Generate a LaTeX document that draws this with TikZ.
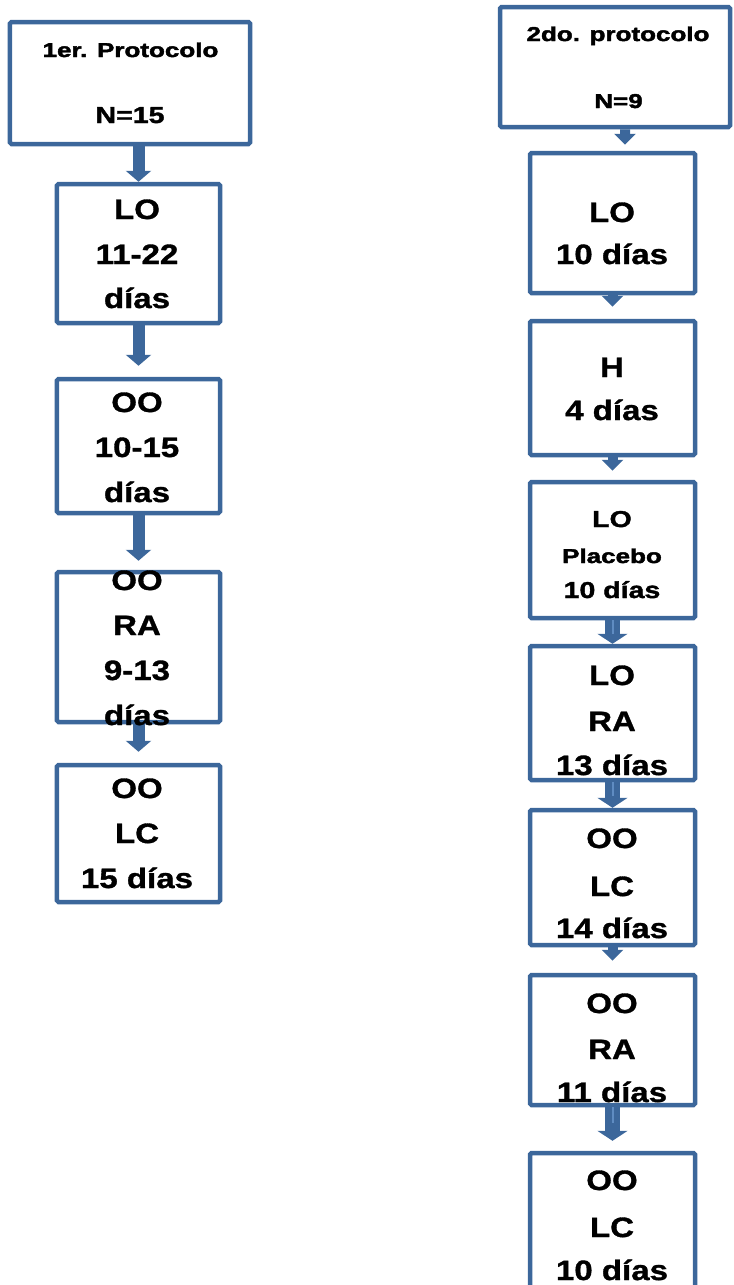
\documentclass[tikz,border=0pt]{standalone}
\usepackage{fontspec}
\usetikzlibrary{arrows.meta}
\newfontfamily\flowbig[FakeStretch=1.18, BoldFeatures={FakeBold=1.2}]{Liberation Sans}
\newfontfamily\flowmid[FakeStretch=1.24, BoldFeatures={FakeBold=1.6}]{Liberation Sans}
\newfontfamily\flowsmall[FakeStretch=1.3, BoldFeatures={FakeBold=2.2}]{Liberation Sans}
\definecolor{boxblue}{HTML}{3C679B}
\definecolor{stripeblue}{HTML}{5F8CC2}
\tikzset{
  stage/.style={draw=boxblue, line width=4.5bp, rounded corners=1.5bp, inner sep=0pt},
  leftstage/.style={stage, minimum width=163bp},
  rightstage/.style={stage, minimum width=165bp},
  bigtxt/.style={anchor=base, inner sep=0pt, font=\flowbig\bfseries\fontsize{28bp}{30bp}\selectfont},
  midtxt/.style={anchor=base, inner sep=0pt, font=\flowmid\bfseries\fontsize{23bp}{25bp}\selectfont},
  smalltxt/.style={anchor=base, inner sep=0pt, font=\flowsmall\bfseries\fontsize{20bp}{22bp}\selectfont},
  leftflow/.style={draw=boxblue, line width=12bp, -{Triangle[width=25bp,length=11bp]}},
  thinflow/.style={draw=boxblue, line width=10bp, -{Triangle[width=21bp,length=11bp]}},
  wideflow/.style={draw=boxblue, line width=15bp, -{Triangle[width=30bp,length=10bp]}},
  stripe/.style={draw=stripeblue, line width=2bp},
}
\begin{document}
\begin{tikzpicture}[x=1bp, y=-1bp]
\useasboundingbox (0,0) rectangle (734,1285);
\clip (0,0) rectangle (734,1285);

% ---- first protocol ----
\node[stage, minimum width=240bp, minimum height=122bp] (H1) at (130,83) {};
\node[leftstage, minimum height=139bp] (L2) at (138.5,253.5) {};
\node[leftstage, minimum height=134bp] (L3) at (138.5,446) {};
\node[leftstage, minimum height=150bp] (L4) at (138.5,647) {};
\node[leftstage, minimum height=137bp] (L5) at (138.5,833.5) {};

\draw[leftflow] (L2.north |- H1.south) -- (L2.north);
\draw[leftflow, shorten >=11bp] (L2.south) -- (L3.north);
\draw[leftflow, shorten >=9bp] (L3.south) -- (L4.north);
\draw[leftflow, shorten >=11bp] (L4.south) -- (L5.north);

\node[smalltxt] (H1a) at (130.5,57) {1er. Protocolo};
\node[midtxt] (H1b) at (130,123) {N=15};

\node[bigtxt] (L2a) at (137,219) {LO};
\node[bigtxt] (L2b) at (137,264) {11-22};
\node[bigtxt] (L2c) at (137,308) {días};

\node[bigtxt] (L3a) at (137,412) {OO};
\node[bigtxt] (L3b) at (137,457) {10-15};
\node[bigtxt] (L3c) at (137,502) {días};

\node[bigtxt] (L4a) at (137,590) {OO};
\node[bigtxt] (L4b) at (137,635) {RA};
\node[bigtxt] (L4c) at (137,680) {9-13};
\node[bigtxt] (L4d) at (137,725) {días};

\node[bigtxt] (L5a) at (137,798) {OO};
\node[bigtxt] (L5b) at (137,843) {LC};
\node[bigtxt] (L5c) at (137,888) {15 días};

% ---- second protocol ----
\node[stage, minimum width=230bp, minimum height=120bp] (R1) at (615,67) {};
\node[rightstage, minimum height=140bp] (R2) at (612.5,223) {};
\node[rightstage, minimum height=134bp] (R3) at (612.5,388) {};
\node[rightstage, minimum height=136bp] (R4) at (612.5,550) {};
\node[rightstage, minimum height=134bp] (R5) at (612.5,713) {};
\node[rightstage, minimum height=135bp] (R6) at (612.5,877.5) {};
\node[rightstage, minimum height=130bp] (R7) at (612.5,1040) {};
\node[rightstage, minimum height=157bp] (R8) at (612.5,1231.5) {};

\draw[thinflow, shorten >=6bp] ([xshift=10bp]R1.south) -- ([xshift=12.5bp]R2.north);
\draw[thinflow, shorten >=12bp] (R2.south) -- (R3.north);
\draw[thinflow, shorten >=9bp] (R3.south) -- (R4.north);
\draw[wideflow] (R4.south) -- (R5.north);
\draw[stripe, shorten >=10bp] (R4.south) -- (R5.north);
\draw[wideflow] (R5.south) -- (R6.north);
\draw[stripe, shorten >=12bp] (R5.south) -- (R6.north);
\draw[thinflow, shorten >=12bp] (R6.south) -- (R7.north);
\draw[wideflow, shorten >=10bp] (R7.south) -- (R8.north);
\draw[stripe, shorten >=28bp] (R7.south) -- (R8.north);

\node[smalltxt] (R1a) at (618,41) {2do. protocolo};
\node[smalltxt] (R1b) at (618.5,108) {N=9};

\node[bigtxt] (R2a) at (612,222) {LO};
\node[bigtxt] (R2b) at (612,264) {10 días};

\node[bigtxt] (R3a) at (612,377) {H};
\node[bigtxt] (R3b) at (612,420) {4 días};

\node[midtxt] (R4a) at (612,527) {LO};
\node[smalltxt] (R4b) at (612,563) {Placebo};
\node[midtxt] (R4c) at (612,598) {10 días};

\node[bigtxt] (R5a) at (612,685) {LO};
\node[bigtxt] (R5b) at (612,731) {RA};
\node[bigtxt] (R5c) at (612,775) {13 días};

\node[bigtxt] (R6a) at (612,848) {OO};
\node[bigtxt] (R6b) at (612,896) {LC};
\node[bigtxt] (R6c) at (612,938) {14 días};

\node[bigtxt] (R7a) at (612,1013) {OO};
\node[bigtxt] (R7b) at (612,1059) {RA};
\node[bigtxt] (R7c) at (612,1102) {11 días};

\node[bigtxt] (R8a) at (612,1190) {OO};
\node[bigtxt] (R8b) at (612,1237) {LC};
\node[bigtxt] (R8c) at (612,1280) {10 días};
\end{tikzpicture}
\end{document}
